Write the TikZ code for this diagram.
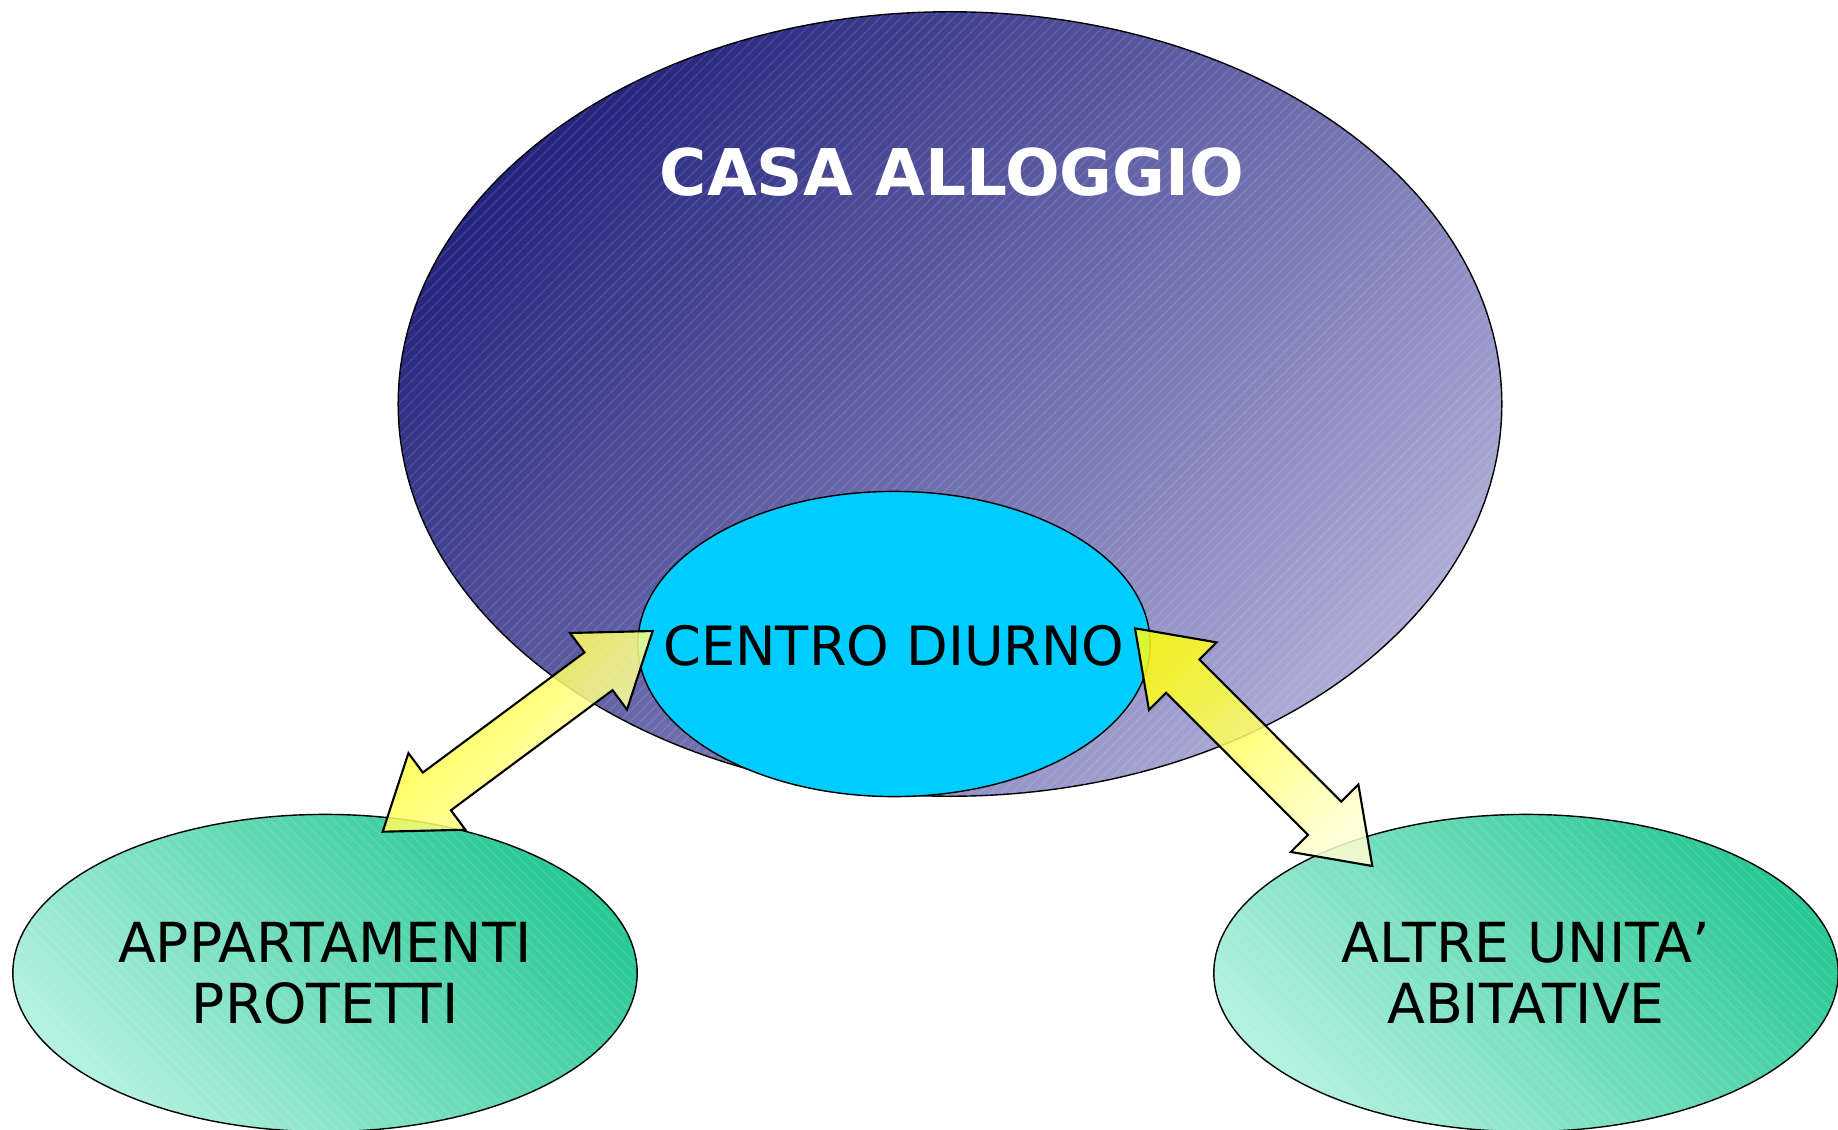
\documentclass[tikz,border=0pt]{standalone}
\usepackage{fontspec}
\setmainfont{DejaVu Sans}
\usetikzlibrary{%
  arrows,%
  calc,%
  patterns,%
  shapes.geometric%
}
\definecolor{casaTop}{RGB}{36,36,126}
\definecolor{casaBot}{RGB}{172,172,214}
\definecolor{centroCyan}{RGB}{0,204,255}
\definecolor{unitaTop}{RGB}{40,200,148}
\definecolor{unitaBot}{RGB}{178,240,224}
\newcommand{\arrhead}{0.675cm}
\newcommand{\arrwide}{0.477cm}
\newcommand{\arrshaft}{0.235cm}
\tikzset{>=latex, bubble/.style = {ellipse, draw=black, line width=0.4pt, inner sep=0pt},%
  casa/.style = {bubble, top color=casaTop, bottom color=casaBot, shading angle=45,
    postaction = {opacity=0.1, pattern = north east lines, pattern color=white}},%
  unita/.style = {bubble, top color=unitaTop, bottom color=unitaBot, shading angle=-45,
    minimum width=6.24cm, minimum height=3.17cm, align=center,
    font=\fontsize{15.7}{17.4}\selectfont,
    postaction = {opacity=0.1, pattern = north west lines, pattern color=white}},%
  dblarrow/.style = {draw=black, line width=0.6pt, line join=miter,
    top color=yellow!92!white, bottom color=yellow!18!white, shading angle=45,
    fill opacity=0.85}}
% fat double arrow between two tips
\newcommand{\fatarrow}[2]{%
  \path[dblarrow] (#1)
    -- ($(#1)!\arrhead!(#2)!\arrwide!90:(#2)$)
    -- ($(#1)!\arrhead!(#2)!\arrshaft!90:(#2)$)
    -- ($(#2)!\arrhead!(#1)!\arrshaft!-90:(#1)$)
    -- ($(#2)!\arrhead!(#1)!\arrwide!-90:(#1)$)
    -- (#2)
    -- ($(#2)!\arrhead!(#1)!\arrwide!90:(#1)$)
    -- ($(#2)!\arrhead!(#1)!\arrshaft!90:(#1)$)
    -- ($(#1)!\arrhead!(#2)!\arrshaft!-90:(#2)$)
    -- ($(#1)!\arrhead!(#2)!\arrwide!-90:(#2)$)
    -- cycle;}

\begin{document}
\begin{tikzpicture}[x=0.01cm, y=-0.01cm]
    \useasboundingbox (0,0) rectangle (1838,1130);
    \node[casa, minimum width=11.03cm, minimum height=7.84cm] (casa) at (950,404) {};
    \node[white, font=\fontsize{18.3}{22}\selectfont\bfseries] (casatxt) at (952,172) {CASA ALLOGGIO};
    \node[bubble, fill=centroCyan, minimum width=5.12cm, minimum height=3.05cm] (centro) at (894,644) {};
    \node[font=\fontsize{15.4}{18.2}\selectfont] (centrotxt) at (894,646) {CENTRO DIURNO};
    \node[unita] (appart) at (325,973) {APPARTAMENTI\\PROTETTI};
    \node[unita] (altre) at (1526,973) {ALTRE UNITA’\\ABITATIVE};
    \coordinate (appTip) at (382.7,831.7);
    \coordinate (cenL) at (652.7,631);
    \coordinate (cenR) at (1135,628.3);
    \coordinate (altTip) at (1372.3,866);
    \fatarrow{appTip}{cenL}
    \fatarrow{cenR}{altTip}
\end{tikzpicture}
\end{document}
